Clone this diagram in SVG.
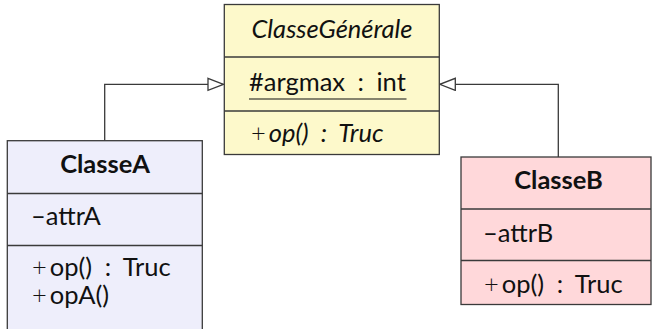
<svg xmlns="http://www.w3.org/2000/svg" width="653" height="329" viewBox="0 0 653 329">
  <style>
    .box { stroke: #3a3a3a; stroke-width: 1.3; }
    .sep { stroke: #3a3a3a; stroke-width: 1.3; fill: none; }
    .general { fill: #fdf9cb; }
    .classA { fill: #eeeefb; }
    .classB { fill: #ffd8da; }
    text { font-family: "Lato", "Liberation Sans", sans-serif; font-size: 25.5px; fill: #111; }
    .name { font-weight: bold; text-anchor: middle; }
    .abstract { font-style: italic; }
    .mid { text-anchor: middle; }
    .sig { word-spacing: 6px; }
    .vis { font-style: normal; font-weight: 300; }
    .link { stroke: #3a3a3a; stroke-width: 1.3; fill: none; marker-end: url(#inherit); }
  </style>
  <defs>
    <!-- hollow triangle for generalisation -->
    <marker id="inherit" markerUnits="userSpaceOnUse" markerWidth="18" markerHeight="15" refX="16.5" refY="7" orient="auto">
      <path d="M1,1 L16.5,7 L1,13 Z" fill="#fff" stroke="#3a3a3a" stroke-width="1.3"/>
    </marker>
  </defs>

  <g id="connectors">
    <path class="link" d="M104.7,140.7 V84.3 H223.5"/>
    <path class="link" d="M558.3,157 V84.3 H439.8"/>
  </g>

  <g id="ClasseGenerale">
    <rect class="box general" x="224.3" y="4.5" width="215" height="150"/>
    <line class="sep" x1="224.3" y1="57" x2="439.3" y2="57"/>
    <line class="sep" x1="224.3" y1="111" x2="439.3" y2="111"/>
    <text class="abstract mid" x="332" y="38">ClasseGénérale</text>
    <text class="sig" x="249" y="91">#argmax : int</text>
    <line x1="249" y1="99" x2="406.5" y2="99" stroke="#111" stroke-width="1.2"/>
    <text class="abstract sig" x="251" y="141.5"><tspan class="vis">+</tspan><tspan dx="3">op() : Truc</tspan></text>
  </g>

  <g id="ClasseA">
    <rect class="box classA" x="7.3" y="140.7" width="195" height="200"/>
    <line class="sep" x1="7.3" y1="193.5" x2="202.3" y2="193.5"/>
    <line class="sep" x1="7.3" y1="245.5" x2="202.3" y2="245.5"/>
    <text class="name" x="105" y="173">ClasseA</text>
    <text x="31" y="225">–attrA</text>
    <!-- operations compartment: two lines in one block -->
    <text class="sig" x="32" y="276"><tspan class="vis">+</tspan><tspan dx="3">op() : Truc</tspan><tspan class="vis" x="32" dy="27.5">+</tspan><tspan dx="3">opA()</tspan></text>
  </g>

  <g id="ClasseB">
    <rect class="box classB" x="461" y="157" width="190" height="147.5"/>
    <line class="sep" x1="461" y1="209" x2="651" y2="209"/>
    <line class="sep" x1="461" y1="260.5" x2="651" y2="260.5"/>
    <text class="name" x="558.5" y="189">ClasseB</text>
    <text x="483" y="241.5">–attrB</text>
    <text class="sig" x="484" y="293"><tspan class="vis">+</tspan><tspan dx="3">op() : Truc</tspan></text>
  </g>
</svg>
